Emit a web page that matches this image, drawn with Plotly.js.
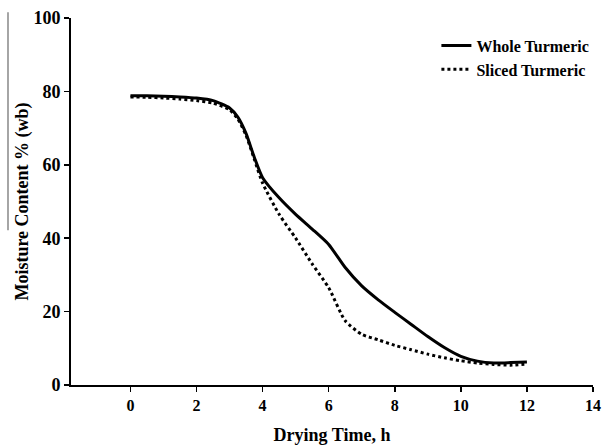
<!DOCTYPE html>
<html>
<head>
<meta charset="utf-8">
<script src="https://cdn.plot.ly/plotly-3.0.1.min.js"></script>
<style>html,body{margin:0;padding:0;background:#fff;}#chart{width:602px;height:445px;}</style>
</head>
<body>
<div id="chart"></div>
<script>
// Drying time (h)
var timeHours = [0, 0.5, 1, 1.5, 2, 2.5, 3, 3.25, 3.5, 3.75, 4, 4.5, 5, 5.5, 6, 6.5, 7, 7.5, 8, 8.5, 9, 9.5, 10, 10.5, 11, 11.5, 12];
// Moisture content % (wb)
var wholeTurmeric  = [78.8, 78.8, 78.7, 78.5, 78.2, 77.5, 75.5, 73, 68.5, 62, 56.5, 51, 46.5, 42.5, 38.3, 32, 27, 23.2, 19.8, 16.5, 13.2, 10.2, 7.8, 6.5, 6.0, 6.1, 6.3];
var slicedTurmeric = [78.5, 78.4, 78.2, 77.9, 77.5, 76.8, 75, 72.5, 68, 61.5, 55, 46.5, 40, 33, 26.5, 17.5, 13.8, 12.3, 10.8, 9.6, 8.4, 7.4, 6.6, 6.0, 5.6, 5.4, 5.7];
var seriesNames = ["Whole Turmeric", "Sliced Turmeric"];
var xTicks = [0, 2, 4, 6, 8, 10, 12, 14];
var yTicks = [0, 20, 40, 60, 80, 100];

var serif = "Liberation Serif, Times New Roman, serif";
function bold(v) { return "<b>" + v + "</b>"; }

var traces = [
  {x: timeHours, y: wholeTurmeric, name: bold(seriesNames[0]), mode: "lines",
   line: {color: "#000", width: 3, shape: "spline", smoothing: 0.6}, legend: "legend"},
  {x: timeHours, y: slicedTurmeric, name: bold(seriesNames[1]), mode: "lines",
   line: {color: "#000", width: 3, dash: "dot", shape: "spline", smoothing: 0.6}, legend: "legend2"}
];

var legendFont = {family: serif, size: 16, color: "#000"};
var layout = {
  width: 602, height: 445,
  margin: {l: 71, r: 9, t: 18, b: 60, autoexpand: false},
  paper_bgcolor: "#fff", plot_bgcolor: "#fff",
  showlegend: true,
  legend: {x: 0.70, y: 0.925, xanchor: "left", yanchor: "middle", font: legendFont, bgcolor: "rgba(0,0,0,0)", borderwidth: 0},
  legend2: {x: 0.70, y: 0.86, xanchor: "left", yanchor: "middle", font: legendFont, bgcolor: "rgba(0,0,0,0)", borderwidth: 0},
  xaxis: {
    range: [-1.8, 14], tickvals: xTicks, ticktext: xTicks.map(bold),
    showgrid: false, zeroline: false, showline: true, linecolor: "#000", linewidth: 2,
    ticks: "outside", ticklen: 5, tickwidth: 1.5, tickcolor: "#000",
    tickfont: {family: serif, size: 16, color: "#000"},
    title: {text: "<b>Drying Time, h</b>", font: {family: serif, size: 18, color: "#000"}, standoff: 16}
  },
  yaxis: {
    range: [0, 100], tickvals: yTicks, ticktext: yTicks.map(bold),
    showgrid: false, zeroline: false, showline: true, linecolor: "#000", linewidth: 2,
    ticks: "outside", ticklen: 5, tickwidth: 1.5, tickcolor: "#000",
    tickfont: {family: serif, size: 18, color: "#000"},
    title: {text: "<b>Moisture Content % (wb)</b>", font: {family: serif, size: 18, color: "#000"}, standoff: 0},
    automargin: false
  },
  shapes: [
    {type: "line", xref: "paper", yref: "paper", x0: -0.1207, x1: -0.1207, y0: 1.016, y1: 0.422,
     line: {color: "#888", width: 1.5}}
  ]
};

Plotly.newPlot("chart", traces, layout, {staticPlot: true, displayModeBar: false});
</script>
</body>
</html>
